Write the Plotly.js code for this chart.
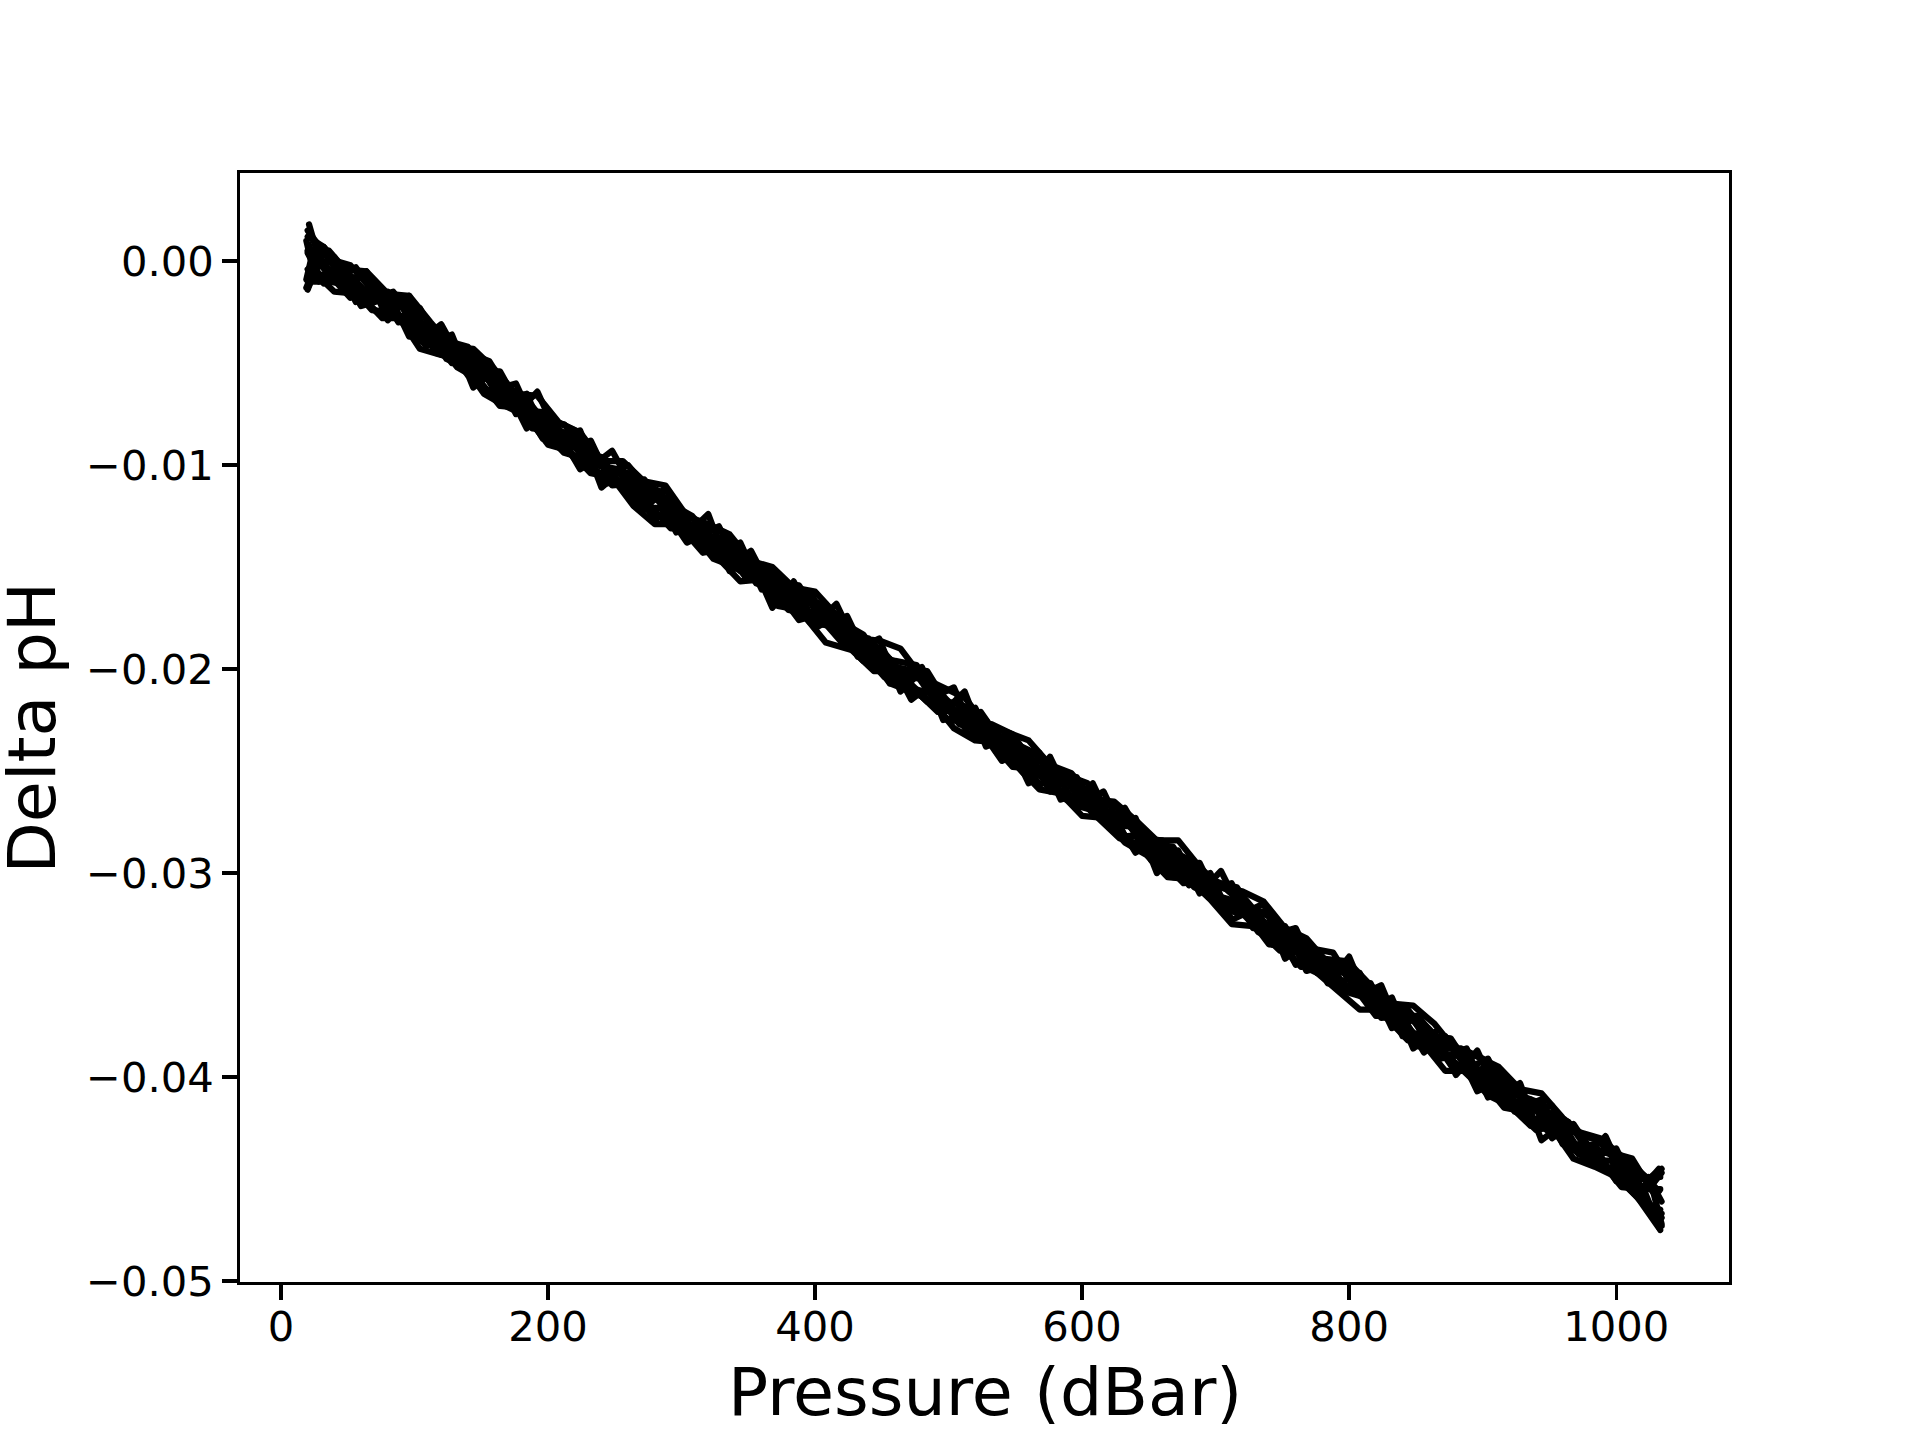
<!DOCTYPE html>
<html>
<head>
<meta charset="utf-8">
<script src="https://cdn.plot.ly/plotly-3.0.1.min.js"></script>
<style>
  html, body { margin: 0; padding: 0; background: #ffffff; }
  #chart { width: 1920px; height: 1440px; }
  .js-line { stroke-linejoin: round !important; stroke-linecap: round !important; }
</style>
</head>
<body>
<div id="chart"></div>
<script>
// Pressure grids (dBar)
const pressureA = [20, 36, 52, 68, 84, 100, 116, 132, 148, 164, 180, 196, 212, 228, 244, 260, 276, 292, 308, 324, 340, 356, 372, 388, 404, 420, 436, 452, 468, 484, 500, 516, 532, 548, 564, 580, 596, 612, 628, 644, 660, 676, 692, 708, 724, 740, 756, 772, 788, 804, 820, 836, 852, 868, 884, 900, 916, 932, 948, 964, 980, 996, 1012, 1028, 1034];
const pressureB = [21, 28, 44, 60, 76, 92, 108, 124, 140, 156, 172, 188, 204, 220, 236, 252, 268, 284, 300, 316, 332, 348, 364, 380, 396, 412, 428, 444, 460, 476, 492, 508, 524, 540, 556, 572, 588, 604, 620, 636, 652, 668, 684, 700, 716, 732, 748, 764, 780, 796, 812, 828, 844, 860, 876, 892, 908, 924, 940, 956, 972, 988, 1004, 1020, 1033];
const pressureC = [20, 32, 48, 64, 80, 96, 112, 128, 144, 160, 176, 192, 208, 224, 240, 256, 272, 288, 304, 320, 336, 352, 368, 384, 400, 416, 432, 448, 464, 480, 496, 512, 528, 544, 560, 576, 592, 608, 624, 640, 656, 672, 688, 704, 720, 736, 752, 768, 784, 800, 816, 832, 848, 864, 880, 896, 912, 928, 944, 960, 976, 992, 1008, 1024, 1034];
const pressureD = [19, 24, 40, 56, 72, 88, 104, 120, 136, 152, 168, 184, 200, 216, 232, 248, 264, 280, 296, 312, 328, 344, 360, 376, 392, 408, 424, 440, 456, 472, 488, 504, 520, 536, 552, 568, 584, 600, 616, 632, 648, 664, 680, 696, 712, 728, 744, 760, 776, 792, 808, 824, 840, 856, 872, 888, 904, 920, 936, 952, 968, 984, 1000, 1016, 1032];

// Delta pH profiles
const profile1 = [0.0015, 0.0001, -0.0002, -0.0014, -0.0016, -0.0030, -0.0033, -0.0045, -0.0047, -0.0060, -0.0066, -0.0079, -0.0080, -0.0091, -0.0101, -0.0104, -0.0116, -0.0119, -0.0125, -0.0137, -0.0142, -0.0153, -0.0155, -0.0165, -0.0168, -0.0181, -0.0186, -0.0192, -0.0204, -0.0205, -0.0216, -0.0219, -0.0231, -0.0236, -0.0241, -0.0254, -0.0257, -0.0266, -0.0268, -0.0282, -0.0287, -0.0292, -0.0304, -0.0308, -0.0317, -0.0320, -0.0330, -0.0342, -0.0344, -0.0350, -0.0361, -0.0367, -0.0371, -0.0382, -0.0387, -0.0399, -0.0401, -0.0411, -0.0417, -0.0422, -0.0434, -0.0438, -0.0447, -0.0452, -0.0447];
const profile2 = [-0.0010, -0.0010, -0.0012, -0.0024, -0.0025, -0.0037, -0.0039, -0.0052, -0.0058, -0.0071, -0.0072, -0.0083, -0.0094, -0.0097, -0.0108, -0.0110, -0.0123, -0.0127, -0.0133, -0.0146, -0.0150, -0.0155, -0.0169, -0.0171, -0.0175, -0.0187, -0.0192, -0.0204, -0.0205, -0.0215, -0.0225, -0.0226, -0.0236, -0.0248, -0.0249, -0.0260, -0.0263, -0.0273, -0.0283, -0.0286, -0.0291, -0.0304, -0.0308, -0.0318, -0.0321, -0.0335, -0.0336, -0.0346, -0.0355, -0.0356, -0.0368, -0.0374, -0.0385, -0.0386, -0.0396, -0.0402, -0.0415, -0.0417, -0.0426, -0.0430, -0.0442, -0.0445, -0.0454, -0.0465, -0.0473];
const profile3 = [0.0018, 0.0002, -0.0010, -0.0007, -0.0021, -0.0021, -0.0038, -0.0039, -0.0042, -0.0059, -0.0064, -0.0079, -0.0078, -0.0083, -0.0100, -0.0102, -0.0118, -0.0115, -0.0126, -0.0137, -0.0135, -0.0149, -0.0160, -0.0160, -0.0162, -0.0180, -0.0183, -0.0187, -0.0204, -0.0203, -0.0213, -0.0224, -0.0221, -0.0236, -0.0245, -0.0245, -0.0254, -0.0268, -0.0270, -0.0273, -0.0287, -0.0289, -0.0306, -0.0305, -0.0307, -0.0324, -0.0329, -0.0332, -0.0347, -0.0349, -0.0353, -0.0370, -0.0370, -0.0380, -0.0381, -0.0397, -0.0398, -0.0412, -0.0412, -0.0423, -0.0435, -0.0432, -0.0444, -0.0454, -0.0475];
const profile4 = [-0.0012, 0.0000, -0.0001, -0.0014, -0.0015, -0.0018, -0.0033, -0.0045, -0.0045, -0.0049, -0.0066, -0.0071, -0.0084, -0.0084, -0.0096, -0.0109, -0.0108, -0.0113, -0.0128, -0.0131, -0.0133, -0.0151, -0.0151, -0.0162, -0.0173, -0.0172, -0.0181, -0.0193, -0.0196, -0.0198, -0.0216, -0.0217, -0.0228, -0.0230, -0.0241, -0.0253, -0.0252, -0.0256, -0.0273, -0.0276, -0.0286, -0.0287, -0.0303, -0.0304, -0.0308, -0.0321, -0.0333, -0.0332, -0.0342, -0.0343, -0.0360, -0.0362, -0.0367, -0.0380, -0.0385, -0.0397, -0.0395, -0.0408, -0.0412, -0.0427, -0.0427, -0.0430, -0.0446, -0.0450, -0.0449];
const profile5 = [0.0005, -0.0007, -0.0018, -0.0015, -0.0027, -0.0027, -0.0045, -0.0048, -0.0050, -0.0068, -0.0070, -0.0087, -0.0084, -0.0098, -0.0109, -0.0108, -0.0119, -0.0131, -0.0131, -0.0143, -0.0143, -0.0158, -0.0162, -0.0176, -0.0173, -0.0185, -0.0196, -0.0196, -0.0206, -0.0216, -0.0216, -0.0233, -0.0233, -0.0244, -0.0249, -0.0251, -0.0267, -0.0270, -0.0282, -0.0282, -0.0294, -0.0305, -0.0304, -0.0317, -0.0321, -0.0333, -0.0332, -0.0344, -0.0354, -0.0356, -0.0370, -0.0370, -0.0381, -0.0391, -0.0389, -0.0404, -0.0408, -0.0421, -0.0420, -0.0432, -0.0441, -0.0441, -0.0452, -0.0464, -0.0469];
const profile6 = [-0.0006, -0.0010, -0.0006, -0.0017, -0.0028, -0.0028, -0.0031, -0.0048, -0.0053, -0.0066, -0.0065, -0.0079, -0.0084, -0.0097, -0.0094, -0.0108, -0.0121, -0.0121, -0.0132, -0.0132, -0.0148, -0.0153, -0.0157, -0.0171, -0.0173, -0.0176, -0.0191, -0.0201, -0.0201, -0.0211, -0.0221, -0.0220, -0.0233, -0.0239, -0.0251, -0.0251, -0.0263, -0.0262, -0.0276, -0.0286, -0.0289, -0.0302, -0.0301, -0.0313, -0.0317, -0.0328, -0.0338, -0.0336, -0.0348, -0.0358, -0.0361, -0.0371, -0.0382, -0.0381, -0.0391, -0.0401, -0.0402, -0.0417, -0.0421, -0.0426, -0.0438, -0.0441, -0.0451, -0.0462, -0.0465];
const profile7 = [-0.0004, 0.0005, -0.0007, -0.0018, -0.0015, -0.0028, -0.0042, -0.0041, -0.0054, -0.0054, -0.0073, -0.0074, -0.0085, -0.0088, -0.0104, -0.0100, -0.0113, -0.0124, -0.0126, -0.0138, -0.0138, -0.0155, -0.0158, -0.0159, -0.0175, -0.0177, -0.0183, -0.0198, -0.0200, -0.0201, -0.0218, -0.0228, -0.0227, -0.0232, -0.0247, -0.0252, -0.0253, -0.0272, -0.0272, -0.0283, -0.0284, -0.0295, -0.0307, -0.0305, -0.0318, -0.0321, -0.0335, -0.0337, -0.0339, -0.0356, -0.0359, -0.0370, -0.0370, -0.0386, -0.0386, -0.0391, -0.0407, -0.0410, -0.0420, -0.0422, -0.0437, -0.0437, -0.0440, -0.0457, -0.0472];
const profile8 = [0.0008, -0.0007, -0.0005, -0.0022, -0.0019, -0.0030, -0.0041, -0.0041, -0.0056, -0.0056, -0.0069, -0.0082, -0.0083, -0.0087, -0.0103, -0.0107, -0.0119, -0.0116, -0.0131, -0.0143, -0.0141, -0.0155, -0.0153, -0.0165, -0.0177, -0.0179, -0.0190, -0.0190, -0.0207, -0.0210, -0.0213, -0.0227, -0.0230, -0.0245, -0.0240, -0.0254, -0.0264, -0.0264, -0.0277, -0.0277, -0.0294, -0.0294, -0.0307, -0.0311, -0.0314, -0.0329, -0.0334, -0.0346, -0.0344, -0.0356, -0.0356, -0.0368, -0.0381, -0.0379, -0.0394, -0.0399, -0.0400, -0.0416, -0.0426, -0.0424, -0.0436, -0.0441, -0.0454, -0.0455, -0.0455];
const profile9 = [-0.0014, 0.0007, -0.0014, -0.0005, -0.0029, -0.0017, -0.0040, -0.0036, -0.0062, -0.0054, -0.0075, -0.0064, -0.0087, -0.0083, -0.0111, -0.0102, -0.0122, -0.0111, -0.0134, -0.0124, -0.0152, -0.0146, -0.0170, -0.0157, -0.0178, -0.0168, -0.0190, -0.0185, -0.0211, -0.0201, -0.0221, -0.0211, -0.0238, -0.0234, -0.0256, -0.0243, -0.0265, -0.0256, -0.0278, -0.0273, -0.0300, -0.0289, -0.0310, -0.0299, -0.0320, -0.0315, -0.0342, -0.0334, -0.0354, -0.0341, -0.0366, -0.0361, -0.0386, -0.0378, -0.0399, -0.0387, -0.0410, -0.0403, -0.0431, -0.0423, -0.0440, -0.0429, -0.0452, -0.0449, -0.0461];
const profile10 = [0.0010, -0.0004, 0.0002, -0.0020, -0.0013, -0.0030, -0.0023, -0.0042, -0.0042, -0.0064, -0.0061, -0.0082, -0.0073, -0.0092, -0.0088, -0.0110, -0.0109, -0.0127, -0.0119, -0.0135, -0.0130, -0.0152, -0.0150, -0.0169, -0.0162, -0.0178, -0.0174, -0.0196, -0.0195, -0.0215, -0.0207, -0.0223, -0.0219, -0.0241, -0.0239, -0.0257, -0.0250, -0.0266, -0.0260, -0.0282, -0.0281, -0.0300, -0.0292, -0.0308, -0.0305, -0.0327, -0.0325, -0.0345, -0.0338, -0.0354, -0.0349, -0.0371, -0.0370, -0.0388, -0.0380, -0.0396, -0.0391, -0.0413, -0.0411, -0.0430, -0.0423, -0.0439, -0.0435, -0.0457, -0.0445];
const profile11 = [0.0004, -0.0011, -0.0006, -0.0019, -0.0015, -0.0037, -0.0035, -0.0050, -0.0047, -0.0063, -0.0060, -0.0083, -0.0084, -0.0102, -0.0096, -0.0112, -0.0107, -0.0123, -0.0138, -0.0133, -0.0149, -0.0142, -0.0162, -0.0164, -0.0180, -0.0174, -0.0194, -0.0192, -0.0205, -0.0199, -0.0225, -0.0223, -0.0225, -0.0243, -0.0242, -0.0260, -0.0252, -0.0271, -0.0273, -0.0290, -0.0284, -0.0298, -0.0295, -0.0317, -0.0315, -0.0329, -0.0326, -0.0348, -0.0345, -0.0357, -0.0354, -0.0376, -0.0372, -0.0388, -0.0385, -0.0407, -0.0402, -0.0415, -0.0411, -0.0433, -0.0433, -0.0445, -0.0442, -0.0464, -0.0467];
const profile12 = [-0.0009, 0.0005, -0.0009, -0.0003, -0.0018, -0.0019, -0.0039, -0.0031, -0.0050, -0.0052, -0.0070, -0.0065, -0.0089, -0.0085, -0.0101, -0.0093, -0.0112, -0.0112, -0.0133, -0.0128, -0.0143, -0.0138, -0.0161, -0.0159, -0.0174, -0.0168, -0.0184, -0.0185, -0.0207, -0.0199, -0.0214, -0.0209, -0.0233, -0.0231, -0.0245, -0.0241, -0.0264, -0.0261, -0.0275, -0.0268, -0.0286, -0.0288, -0.0306, -0.0300, -0.0323, -0.0318, -0.0330, -0.0327, -0.0349, -0.0345, -0.0360, -0.0355, -0.0380, -0.0378, -0.0390, -0.0386, -0.0410, -0.0403, -0.0417, -0.0414, -0.0436, -0.0434, -0.0451, -0.0445, -0.0456];
const profile13 = [0.0012, 0.0007, -0.0004, -0.0005, -0.0016, -0.0017, -0.0030, -0.0042, -0.0043, -0.0053, -0.0065, -0.0066, -0.0079, -0.0084, -0.0098, -0.0098, -0.0108, -0.0110, -0.0125, -0.0129, -0.0134, -0.0147, -0.0150, -0.0160, -0.0162, -0.0173, -0.0185, -0.0186, -0.0190, -0.0204, -0.0209, -0.0214, -0.0227, -0.0231, -0.0235, -0.0247, -0.0251, -0.0264, -0.0265, -0.0274, -0.0284, -0.0284, -0.0297, -0.0307, -0.0309, -0.0314, -0.0327, -0.0332, -0.0344, -0.0344, -0.0355, -0.0364, -0.0365, -0.0374, -0.0387, -0.0390, -0.0395, -0.0406, -0.0408, -0.0420, -0.0429, -0.0432, -0.0441, -0.0450, -0.0445];
const profile14 = [-0.0013, -0.0005, -0.0015, -0.0016, -0.0025, -0.0027, -0.0043, -0.0046, -0.0050, -0.0065, -0.0071, -0.0076, -0.0090, -0.0093, -0.0104, -0.0106, -0.0120, -0.0129, -0.0129, -0.0139, -0.0146, -0.0157, -0.0156, -0.0169, -0.0174, -0.0187, -0.0190, -0.0193, -0.0207, -0.0211, -0.0216, -0.0229, -0.0235, -0.0236, -0.0248, -0.0259, -0.0261, -0.0272, -0.0273, -0.0285, -0.0291, -0.0302, -0.0303, -0.0313, -0.0325, -0.0326, -0.0330, -0.0344, -0.0349, -0.0358, -0.0367, -0.0367, -0.0379, -0.0384, -0.0397, -0.0397, -0.0409, -0.0414, -0.0424, -0.0425, -0.0440, -0.0444, -0.0449, -0.0459, -0.0474];

// Axis ticks
const xTickVals = [0, 200, 400, 600, 800, 1000];
const xTickLabels = ['0', '200', '400', '600', '800', '1000'];
const yTickVals = [0, -0.01, -0.02, -0.03, -0.04, -0.05];
const yTickLabels = ['0.00', '\u22120.01', '\u22120.02', '\u22120.03', '\u22120.04', '\u22120.05'];

const xLabel = 'Pressure (dBar)';
const yLabel = 'Delta pH';

const profiles = [
  [pressureA, profile1],
  [pressureA, profile2],
  [pressureB, profile3],
  [pressureB, profile4],
  [pressureA, profile5],
  [pressureB, profile6],
  [pressureA, profile7],
  [pressureB, profile8],
  [pressureC, profile9],
  [pressureD, profile10],
  [pressureC, profile11],
  [pressureD, profile12],
  [pressureC, profile13],
  [pressureD, profile14]
];

const traces = profiles.map(function (p) {
  return {
    type: 'scatter',
    mode: 'lines',
    x: p[0],
    y: p[1],
    line: { color: '#000000', width: 6.25, shape: 'linear' },
    hoverinfo: 'skip',
    showlegend: false
  };
});

const font = 'DejaVu Sans, Liberation Sans, sans-serif';

const layout = {
  width: 1920,
  height: 1440,
  paper_bgcolor: '#ffffff',
  plot_bgcolor: '#ffffff',
  margin: { l: 240, r: 191, t: 173, b: 158, pad: 0 },
  showlegend: false,
  font: { family: font, color: '#000000' },
  xaxis: {
    range: [-30.7, 1084.5],
    tickmode: 'array',
    tickvals: xTickVals,
    ticktext: xTickLabels,
    ticks: 'outside',
    ticklen: 14.6,
    tickwidth: 3.33,
    tickcolor: '#000000',
    ticklabelstandoff: -9,
    tickfont: { family: font, size: 41.7, color: '#000000' },
    showline: true,
    linewidth: 3.33,
    linecolor: '#000000',
    mirror: true,
    showgrid: false,
    zeroline: false,
    automargin: false
  },
  yaxis: {
    range: [-0.05005, 0.00432],
    tickmode: 'array',
    tickvals: yTickVals,
    ticktext: yTickLabels,
    ticks: 'outside',
    ticklen: 14.6,
    tickwidth: 3.33,
    tickcolor: '#000000',
    tickfont: { family: font, size: 41.7, color: '#000000' },
    showline: true,
    linewidth: 3.33,
    linecolor: '#000000',
    mirror: true,
    showgrid: false,
    zeroline: false,
    automargin: false
  },
  annotations: [
    {
      text: xLabel,
      xref: 'paper', yref: 'paper',
      x: 0.5, y: 0,
      xanchor: 'center', yanchor: 'top',
      yshift: -69,
      showarrow: false,
      font: { family: font, size: 66.7, color: '#000000' }
    },
    {
      text: yLabel,
      xref: 'paper', yref: 'paper',
      x: 0, y: 0.5,
      xanchor: 'center', yanchor: 'middle',
      xshift: -209,
      textangle: -90,
      showarrow: false,
      font: { family: font, size: 66.7, color: '#000000' }
    }
  ]
};

Plotly.newPlot('chart', traces, layout, { staticPlot: true, displayModeBar: false });
</script>
</body>
</html>
